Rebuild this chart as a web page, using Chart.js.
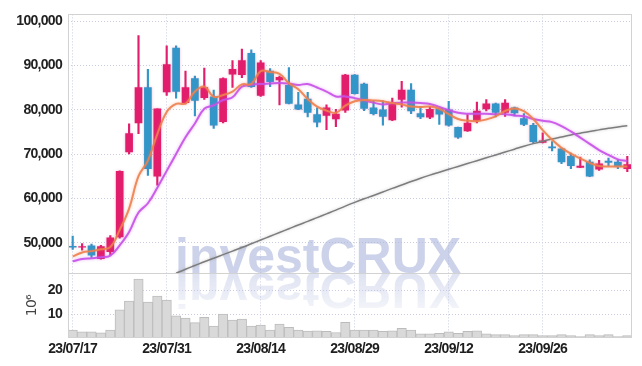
<!DOCTYPE html>
<html>
<head>
<meta charset="utf-8">
<script src="https://cdn.jsdelivr.net/npm/chart.js@4.4.0/dist/chart.umd.min.js"></script>
<style>
  body { margin: 0; background: #fff; }
  #chart { display: block; }
</style>
</head>
<body>
<canvas id="chart" width="642" height="366"></canvas>
<script>
// trading days, 23/07/17 .. 23/10/16
const dates = [
  '23/07/17','23/07/18','23/07/19','23/07/20','23/07/21','23/07/24','23/07/25','23/07/26','23/07/27','23/07/28',
  '23/07/31','23/08/01','23/08/02','23/08/03','23/08/04','23/08/07','23/08/08','23/08/09','23/08/10','23/08/11',
  '23/08/14','23/08/16','23/08/17','23/08/18','23/08/21','23/08/22','23/08/23','23/08/24','23/08/25','23/08/28',
  '23/08/29','23/08/30','23/08/31','23/09/01','23/09/04','23/09/05','23/09/06','23/09/07','23/09/08','23/09/11',
  '23/09/12','23/09/13','23/09/14','23/09/15','23/09/18','23/09/19','23/09/20','23/09/21','23/09/22','23/09/25',
  '23/09/26','23/09/27','23/10/04','23/10/05','23/10/06','23/10/10','23/10/11','23/10/12','23/10/13','23/10/16'
];

const opens = [
  49200, 49000, 49300, 46400, 48000, 51300, 70500, 77000, 85000, 65000,
  84000, 93900, 81600, 87000, 82700, 82900, 77300, 88000, 87900, 92700,
  83200, 88700, 86700, 85500, 81100, 82400, 78900, 78700, 77900, 79900,
  87800, 85800, 80400, 80000, 77700, 82300, 84400, 79100, 78300, 80200,
  80000, 76000, 75200, 77600, 80200, 81300, 79400, 80400, 78000, 76500,
  72600, 71600, 71200, 69500, 67000, 68200, 66600, 68400, 68200, 66700
];
const closes = [
  49000, 49100, 47200, 49100, 51100, 66100, 74600, 85000, 66700, 80200,
  90200, 84100, 85000, 82100, 85000, 76500, 87000, 89100, 91100, 85200,
  90600, 86300, 87300, 81400, 80100, 79400, 77200, 80400, 79000, 87800,
  83600, 80300, 79100, 78500, 81500, 84400, 79700, 78400, 80100, 79000,
  76500, 73800, 77000, 79700, 81300, 79400, 81500, 79300, 76700, 72800,
  73000, 71400, 68200, 67400, 67300, 65000, 67800, 68100, 67200, 67600
];
const highs = [
  51500, 49800, 49700, 49400, 51600, 66200, 76800, 96700, 89100, 80200,
  94400, 94400, 88700, 87600, 89400, 84400, 87200, 91100, 93700, 93500,
  91100, 89300, 87600, 89500, 83900, 83900, 80400, 81100, 80100, 88000,
  87900, 86000, 82000, 82000, 82600, 86400, 85900, 80700, 80700, 80300,
  81900, 76100, 78900, 81700, 82300, 81500, 82300, 80600, 79100, 76900,
  74800, 72800, 71300, 70200, 69300, 68700, 68600, 69100, 68700, 69500
];
const lows = [
  48500, 48300, 46700, 46300, 47300, 51000, 70000, 74600, 65200, 63000,
  83200, 82600, 81300, 78600, 82300, 75800, 77000, 85000, 87200, 85000,
  83000, 85200, 81100, 81300, 80000, 78400, 76100, 75500, 76200, 79400,
  83500, 79800, 78800, 76500, 77500, 80600, 79100, 78000, 78000, 76700,
  76300, 73500, 75100, 77000, 79700, 78400, 78500, 78600, 76400, 72400,
  72500, 70700, 67800, 66700, 66900, 64900, 66300, 67400, 66700, 66000
];

// moving averages as drawn
const ma5 = [
  46900, 47800, 48100, 48500, 49000, 52900, 57700, 65000, 68500, 74500,
  79500, 81300, 81400, 84100, 85200, 82900, 83300, 84100, 85700, 85800,
  88700, 88500, 88100, 86000, 84600, 82400, 80700, 79800, 79300, 80900,
  81900, 82200, 82100, 81900, 81500, 81200, 80700, 80600, 80700, 80200,
  79000, 77900, 77500, 77400, 77800, 78500, 79700, 80300, 79700, 77900,
  75400, 73200, 71400, 70100, 69000, 68000, 67300, 67200, 67200, 67200
];
const ma10 = [
  45800, 46300, 46500, 46700, 47100, 49400, 52400, 56800, 58900, 62400,
  66200, 70000, 73800, 76900, 80200, 81000, 82200, 82800, 85200, 85600,
  85800, 85900, 86000, 85900, 85600, 85800, 85000, 84100, 83000, 83000,
  82600, 82100, 81600, 81200, 81500, 81600, 81600, 81500, 81300, 80600,
  79900, 79300, 79100, 79100, 79100, 79000, 79000, 78700, 78500, 77900,
  77500, 77200, 76300, 75100, 73700, 72300, 70900, 69800, 68800, 68400
];
const ma60 = [
  null, null, null, null, null, null, null, null, null, null,
  null, 43100, 44000, 44850, 45700, 46500, 47300, 48100, 48900, 49750,
  50600, 51450, 52300, 53150, 54000, 54800, 55650, 56500, 57350, 58250,
  59100, 59900, 60650, 61450, 62250, 63000, 63800, 64550, 65250, 65900,
  66550, 67200, 67850, 68500, 69150, 69800, 70450, 71100, 71750, 72350,
  72900, 73400, 73850, 74300, 74700, 75100, 75450, 75800, 76100, 76400
];

// volume, millions of shares
const volume = [
  3.3, 2.6, 2.6, 2.2, 3.3, 11.7, 15.4, 24.6, 15.0, 17.5,
  15.8, 9.3, 8.3, 6.4, 8.6, 5.0, 10.0, 7.5, 7.9, 5.0,
  5.4, 3.3, 5.8, 4.4, 3.3, 2.9, 3.0, 2.8, 2.3, 6.5,
  3.3, 3.3, 3.3, 2.8, 3.0, 4.0, 3.3, 1.7, 1.7, 1.9,
  2.6, 1.9, 2.8, 3.0, 1.7, 1.4, 1.4, 1.0, 1.4, 1.4,
  1.0, 1.0, 1.4, 1.0, 0.6, 1.4, 1.0, 1.4, 0.6, 1.0
];

const priceTicks = [50000, 60000, 70000, 80000, 90000, 100000];
const volumeTicks = [10, 20];

const UP = '#e21e6c';
const DOWN = '#3396c9';
const GRID = '#c9cce0';
const FRAME = '#d2d2d2';
const labelFont = { family: "'Liberation Sans', Arial, sans-serif", size: 14, weight: 'bold' };

const candleColors = opens.map((o, i) => closes[i] >= o ? UP : DOWN);

// tighter tick text, the original uses a narrow face
const tightText = {
  id: 'tightText',
  beforeDraw(chart) { chart.ctx.letterSpacing = '-0.7px'; },
  afterDraw(chart) { chart.ctx.letterSpacing = '0px'; }
};

// watermark with reflection, drawn under the data
const watermark = {
  id: 'watermark',
  beforeDatasetsDraw(chart) {
    const ctx = chart.ctx;
    const base = chart.scales.y.bottom;
    ctx.save();
    ctx.letterSpacing = '0px';
    ctx.font = 'bold 50px "Liberation Sans", Arial, sans-serif';
    ctx.fillStyle = 'rgba(172,182,220,0.62)';
    ctx.fillText('investCRUX', 175, base);
    ctx.translate(0, 2 * base);
    ctx.scale(1, -1);
    const g = ctx.createLinearGradient(0, base, 0, base - 48);
    g.addColorStop(0, 'rgba(190,198,228,0.5)');
    g.addColorStop(1, 'rgba(190,198,228,0.08)');
    ctx.fillStyle = g;
    ctx.fillText('investCRUX', 175, base);
    ctx.restore();
  }
};

// soft glow around lines and candles
const glow = {
  id: 'glow',
  beforeDatasetDraw(chart, args) {
    const ds = chart.data.datasets[args.index];
    if (ds.label === 'volume') return;
    const ctx = chart.ctx;
    ctx.save();
    ctx.shadowColor = ds.glow || 'rgba(0,0,0,0)';
    ctx.shadowBlur = 3;
  },
  afterDatasetDraw(chart, args) {
    const ds = chart.data.datasets[args.index];
    if (ds.label === 'volume') return;
    chart.ctx.restore();
  }
};

// plot frame and panel separator
const frame = {
  id: 'frame',
  afterDraw(chart) {
    const { ctx, chartArea } = chart;
    const sep = chart.scales.y.bottom;
    ctx.save();
    ctx.strokeStyle = FRAME;
    ctx.lineWidth = 1;
    ctx.strokeRect(Math.round(chartArea.left) + 0.5, Math.round(chartArea.top) + 0.5,
      Math.round(chartArea.width) - 1, Math.round(chartArea.height) - 1);
    ctx.beginPath();
    ctx.moveTo(chartArea.left, Math.round(sep) + 0.5);
    ctx.lineTo(chartArea.right, Math.round(sep) + 0.5);
    ctx.stroke();
    ctx.restore();
  }
};

new Chart(document.getElementById('chart'), {
  data: {
    labels: dates,
    datasets: [
      {
        type: 'line', label: 'MA5', data: ma5, yAxisID: 'y', glow: 'rgba(238,128,78,0.5)',
        borderColor: 'rgba(238,128,78,0.9)', borderWidth: 2, pointRadius: 0, tension: 0.4, order: 1
      },
      {
        type: 'line', label: 'MA10', data: ma10, yAxisID: 'y', glow: 'rgba(200,80,232,0.5)',
        borderColor: 'rgba(200,80,232,0.9)', borderWidth: 2, pointRadius: 0, tension: 0.4, order: 2
      },
      {
        type: 'line', label: 'MA60', data: ma60, yAxisID: 'y', glow: 'rgba(128,128,128,0.4)',
        borderColor: '#7d7d7d', borderWidth: 1.5, pointRadius: 0, tension: 0.4, order: 3
      },
      {
        type: 'bar', label: 'body', data: opens.map((o, i) => [o, closes[i]]), yAxisID: 'y', glow: 'rgba(200,60,140,0.35)',
        backgroundColor: candleColors, barThickness: 7, grouped: false, order: 4
      },
      {
        type: 'bar', label: 'wick', data: lows.map((l, i) => [l, highs[i]]), yAxisID: 'y',
        backgroundColor: candleColors, barThickness: 1.5, grouped: false, order: 5
      },
      {
        type: 'bar', label: 'volume', data: volume, yAxisID: 'yv',
        backgroundColor: '#d9d9d9', borderColor: '#bcbcbc', borderWidth: 1,
        barPercentage: 1, categoryPercentage: 1, grouped: false, order: 6
      }
    ]
  },
  options: {
    responsive: false,
    animation: false,
    devicePixelRatio: 1,
    layout: { padding: { top: 9, right: 10, left: 0, bottom: 0 } },
    plugins: { legend: { display: false }, tooltip: { enabled: false } },
    scales: {
      x: {
        type: 'category',
        offset: true,
        grid: { offset: false, color: GRID, drawTicks: false },
        border: { display: false, dash: [1, 2] },
        ticks: { autoSkip: false, maxRotation: 0, padding: 3, color: '#1e1e1e', font: labelFont },
        afterBuildTicks: (scale) => { scale.ticks = scale.ticks.filter(t => t.value % 10 === 0); },
        afterFit: (scale) => { scale.height = 28; }
      },
      yv: {
        type: 'linear',
        position: 'left',
        stack: 'panel',
        stackWeight: 1,
        min: 0,
        max: 27,
        grid: { color: GRID, drawTicks: false },
        border: { display: false, dash: [1, 2] },
        ticks: { padding: 6, color: '#222', font: labelFont },
        title: { display: true, text: '10⁶', color: '#444', font: { family: "'DejaVu Sans', sans-serif", size: 14 }, padding: { top: 24, bottom: 0 } },
        afterBuildTicks: (scale) => { scale.ticks = volumeTicks.map(v => ({ value: v })); },
        afterFit: (scale) => { scale.width = 68; }
      },
      y: {
        type: 'linear',
        position: 'left',
        stack: 'panel',
        stackWeight: 4,
        min: 43100,
        max: 101500,
        grid: { color: GRID, drawTicks: false },
        border: { display: false, dash: [1, 2] },
        ticks: { padding: 6, color: '#222', font: labelFont, callback: (v) => v.toLocaleString('en-US') },
        afterBuildTicks: (scale) => { scale.ticks = priceTicks.map(v => ({ value: v })); },
        afterFit: (scale) => { scale.width = 68; }
      }
    }
  },
  plugins: [tightText, watermark, glow, frame]
});
</script>
</body>
</html>
